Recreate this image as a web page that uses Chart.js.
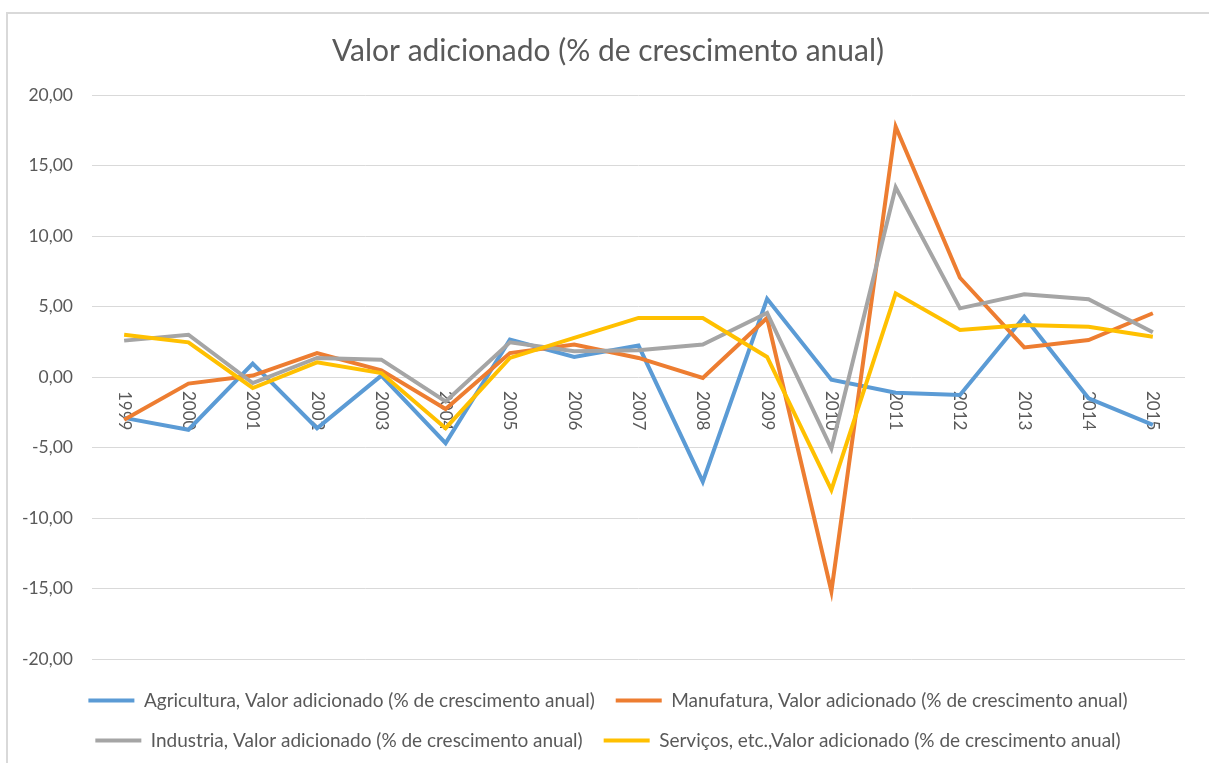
<!DOCTYPE html>
<html>
<head>
<meta charset="utf-8">
<script src="https://cdn.jsdelivr.net/npm/chart.js@4"></script>
<style>
  html, body { margin: 0; padding: 0; background: #ffffff; }
  #wrap { position: relative; width: 1209px; height: 763px; overflow: hidden; }
  #frame { position: absolute; left: 6px; top: 12px; width: 1210px; height: 760px;
           border-top: 2px solid #d9d9d9; border-left: 2px solid #d9d9d9; box-sizing: border-box; }
  #c { position: absolute; left: 0; top: 0; }
</style>
</head>
<body>
<div id="wrap">
  <div id="frame"></div>
  <canvas id="c" width="1209" height="763"></canvas>
</div>
<script>
const years = ['1999','2000','2001','2002','2003','2004','2005','2006','2007','2008','2009','2010','2011','2012','2013','2014','2015'];
const agricultura = [-2.90, -3.74, 0.95, -3.63, 0.10, -4.69, 2.65, 1.42, 2.23, -7.42, 5.55, -0.19, -1.11, -1.28, 4.28, -1.51, -3.40];
const manufatura  = [-3.03, -0.47, 0.10, 1.70, 0.47, -2.27, 1.70, 2.30, 1.35, -0.07, 4.19, -15.20, 17.75, 7.04, 2.10, 2.62, 4.52];
const industria   = [2.58, 3.00, -0.43, 1.35, 1.23, -1.73, 2.46, 1.82, 1.90, 2.30, 4.55, -5.07, 13.45, 4.87, 5.86, 5.51, 3.17];
const servicos    = [3.00, 2.46, -0.78, 1.04, 0.28, -3.63, 1.35, 2.77, 4.19, 4.19, 1.42, -8.00, 5.93, 3.33, 3.69, 3.57, 2.86];
const seriesNames = [
  'Agricultura, Valor adicionado (% de crescimento anual)',
  'Manufatura, Valor adicionado (% de crescimento anual)',
  'Industria, Valor adicionado (% de crescimento anual)',
  'Serviços, etc.,Valor adicionado (% de crescimento anual)'
];
const titleText = 'Valor adicionado (% de crescimento anual)';
const yTicks = [-20, -15, -10, -5, 0, 5, 10, 15, 20];

const FONT = 'Lato, "Noto Sans", sans-serif';
const TEXT = '#595959';

const xLabelsPlugin = {
  id: 'xLabels',
  beforeDatasetsDraw(chart) {
    const ctx = chart.ctx;
    const xs = chart.scales.x, ys = chart.scales.y;
    const y0 = ys.getPixelForValue(0);
    ctx.save();
    ctx.fillStyle = TEXT;
    ctx.font = '17px ' + FONT;
    ctx.textAlign = 'left';
    ctx.textBaseline = 'middle';
    years.forEach((lab, i) => {
      const x = xs.getPixelForValue(i);
      ctx.save();
      ctx.translate(x, y0 + 14);
      ctx.rotate(Math.PI / 2);
      ctx.fillText(lab, 0, 0);
      ctx.restore();
    });
    ctx.restore();
  }
};

const mk = (label, data, color, order) => ({
  label, data, borderColor: color, backgroundColor: color,
  borderWidth: 4, pointRadius: 0, pointHoverRadius: 0, tension: 0, fill: false, order
});

new Chart(document.getElementById('c'), {
  type: 'line',
  data: {
    labels: years,
    datasets: [
      mk(seriesNames[0], agricultura, '#5B9BD5', 3),
      mk(seriesNames[1], manufatura, '#ED7D31', 2),
      mk(seriesNames[2], industria, '#A5A5A5', 1),
      mk(seriesNames[3], servicos, '#FFC000', 0)
    ]
  },
  options: {
    responsive: false,
    animation: false,
    layout: { padding: { left: 7, right: 0, top: 0, bottom: 3 } },
    plugins: {
      tooltip: { enabled: false },
      title: {
        display: true,
        text: titleText,
        color: TEXT,
        font: { family: FONT, size: 30, weight: 'normal', lineHeight: 1.2 },
        padding: { top: 33, bottom: 26 }
      },
      legend: {
        position: 'bottom',
        labels: {
          color: TEXT,
          font: { family: FONT, size: 19 },
          usePointStyle: true,
          pointStyle: 'line',
          pointStyleWidth: 46,
          boxHeight: 19,
          padding: 21,
          sort: (a, b) => a.datasetIndex - b.datasetIndex
        }
      }
    },
    scales: {
      x: {
        type: 'category',
        offset: true,
        grid: { display: false },
        border: { display: false },
        ticks: { display: false },
        afterFit: (s) => { s.height = 11; }
      },
      y: {
        min: -20, max: 20,
        afterBuildTicks: (s) => { s.ticks = yTicks.map(v => ({ value: v })); },
        grid: { color: '#d9d9d9', lineWidth: 1, drawTicks: false },
        border: { display: false },
        ticks: {
          color: TEXT,
          font: { family: FONT, size: 17.5 },
          padding: 19,
          callback: (v) => Number(v).toFixed(2).replace('.', ',')
        },
        afterFit: (s) => { s.width = 85; }
      },
      yR: {
        position: 'right',
        display: true,
        grid: { display: false },
        border: { display: false },
        ticks: { display: false },
        afterFit: (s) => { s.width = 24; }
      }
    }
  },
  plugins: [xLabelsPlugin]
});
</script>
</body>
</html>
